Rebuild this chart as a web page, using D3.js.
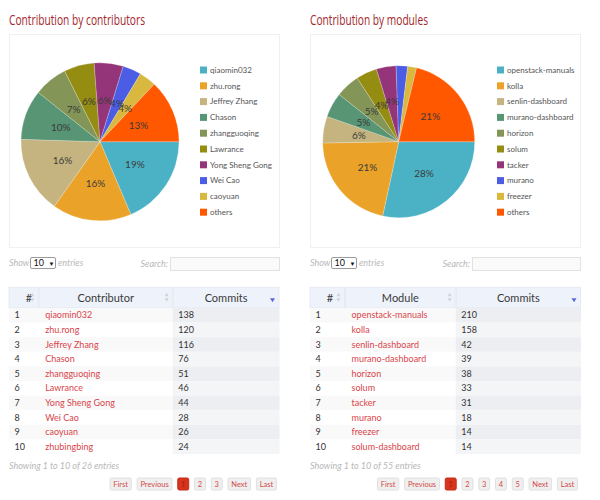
<!DOCTYPE html>
<html><head><meta charset="utf-8">
<script src="https://cdn.jsdelivr.net/npm/d3@7"></script>
<style>body{margin:0;background:#fff;} svg{display:block;font-family:Lato,"Open Sans",sans-serif;}</style>
</head><body><svg id="c" width="600" height="500"></svg>
<script>
// ---------- data ----------
const palette = ["#4bb2c5","#eaa228","#c5b47f","#579575","#839557","#958c12","#953579","#4b5de4","#d8b83f","#ff5800"];

const contributorNames = ["qiaomin032","zhu.rong","Jeffrey Zhang","Chason","zhangguoqing","Lawrance","Yong Sheng Gong","Wei Cao","caoyuan","others"];
const contributorCommits = [138,120,116,76,51,46,44,28,26,96];

const contributorRows = ["qiaomin032","zhu.rong","Jeffrey Zhang","Chason","zhangguoqing","Lawrance","Yong Sheng Gong","Wei Cao","caoyuan","zhubingbing"];
const contributorRowCommits = [138,120,116,76,51,46,44,28,26,24];
const contributorEntries = 26;
const contributorPages = ["First","Previous","1","2","3","Next","Last"];

const moduleNames = ["openstack-manuals","kolla","senlin-dashboard","murano-dashboard","horizon","solum","tacker","murano","freezer","others"];
const moduleCommits = [210,158,42,39,38,33,31,18,14,157];

const moduleRows = ["openstack-manuals","kolla","senlin-dashboard","murano-dashboard","horizon","solum","tacker","murano","freezer","solum-dashboard"];
const moduleRowCommits = [210,158,42,39,38,33,31,18,14,14];
const moduleEntries = 55;
const modulePages = ["First","Previous","1","2","3","4","5","Next","Last"];

// ---------- drawing ----------
const svg = d3.select("#c");

function panel(o) {
  const g = svg.append("g");
  // title
  g.append("text").attr("x", o.x0).attr("y", 25)
    .attr("font-family", "'Open Sans',sans-serif").attr("font-size", 14)
    .attr("fill", "#a3262a").attr("textLength", o.titleW).attr("lengthAdjust", "spacingAndGlyphs")
    .text(o.title);
  // chart box
  g.append("rect").attr("x", o.x0 + 0.5).attr("y", 34.5).attr("width", o.x1 - o.x0 - 1).attr("height", 213)
    .attr("fill", "#fff").attr("stroke", "#f0f0f0");

  // pie
  const pie = d3.pie().sort(null).value(d => d.v).startAngle(Math.PI / 2).endAngle(Math.PI / 2 + 2 * Math.PI);
  const data = o.names.map((n, i) => ({ n, v: o.values[i], c: palette[i] }));
  const arcs = pie(data);
  const total = d3.sum(o.values);
  const arc = d3.arc().innerRadius(0).outerRadius(o.r);
  const labelArc = d3.arc().innerRadius(o.r * 0.53).outerRadius(o.r * 0.53);
  const pg = g.append("g").attr("transform", `translate(${o.cx},141.7)`);
  pg.selectAll("path.s").data(arcs).join("path").attr("class", "s")
    .attr("d", arc).attr("fill", d => d.data.c)
    .attr("stroke", "rgba(255,255,255,0.35)").attr("stroke-width", 0.6);
  pg.selectAll("text").data(arcs.filter(d => d.data.v / total >= 0.03)).join("text")
    .attr("transform", d => `translate(${labelArc.centroid(d)})`)
    .attr("text-anchor", "middle").attr("dy", "0.35em")
    .attr("font-size", 10).attr("fill", "#3a3a3a")
    .text(d => Math.round(d.data.v / total * 100) + "%");

  // legend
  const lg = g.append("g");
  const rowsL = lg.selectAll("g").data(data).join("g")
    .attr("transform", (d, i) => `translate(${o.legendX},${70 + i * 15.8})`);
  rowsL.append("rect").attr("x", 0).attr("y", -3.5).attr("width", 7).attr("height", 7).attr("fill", d => d.c);
  rowsL.append("text").attr("x", 10).attr("dy", "0.35em").attr("font-size", 8).attr("fill", "#555").text(d => d.n);

  // show / search
  const it = { "font-size": 9, "font-style": "italic", "fill": "#b8b8b8" };
  const T = (sel, attrs) => { for (const k in attrs) sel.attr(k, attrs[k]); return sel; };
  T(g.append("text").attr("x", o.x0).attr("y", 265.5), it).text("Show");
  g.append("rect").attr("x", o.x0 + 21.5).attr("y", 257.5).attr("width", 25).attr("height", 11)
    .attr("rx", 1.5).attr("fill", "#fff").attr("stroke", "#9a9a9a");
  g.append("text").attr("x", o.x0 + 24.5).attr("y", 266).attr("font-size", 9).attr("fill", "#111").text("10");
  g.append("text").attr("x", o.x0 + 39.5).attr("y", 265.5).attr("font-size", 6).attr("fill", "#111").text("▼");
  T(g.append("text").attr("x", o.x0 + 49).attr("y", 265.5), it).text("entries");
  T(g.append("text").attr("x", o.searchX - 2).attr("y", 266.5).attr("text-anchor", "end"), it).text("Search:");
  g.append("rect").attr("x", o.searchX + 0.5).attr("y", 257.5).attr("width", o.x1 - o.searchX - 1).attr("height", 13)
    .attr("fill", "#fafafa").attr("stroke", "#e2e2e2");

  // table
  const cols = o.cols; // boundaries
  const hy = 287.3, hh = 20.7, rowH = 14.6, ry0 = hy + hh;
  const heads = ["#", o.colName, "Commits"];
  for (let c = 0; c < 3; c++) {
    g.append("rect").attr("x", cols[c] + (c ? 0.5 : 0)).attr("y", hy).attr("width", cols[c + 1] - cols[c] - (c ? 0.5 : 0) - 0.5)
      .attr("height", hh).attr("fill", "#eef2fa").attr("stroke", "#e3e7ef").attr("stroke-width", 0.8);
    g.append("text").attr("x", c === 0 ? cols[0] + 20 : (cols[c] + cols[c + 1]) / 2).attr("y", hy + 14.3)
      .attr("text-anchor", "middle").attr("font-size", 11).attr("fill", "#3a3a3a").text(heads[c]);
  }
  // sort icons
  [cols[1] - 6.5, cols[2] - 6].forEach(x => {
    g.append("path").attr("d", `M${x - 2},${hy + 9} L${x + 2},${hy + 9} L${x},${hy + 5.5}Z`).attr("fill", "#cfd3da");
    g.append("path").attr("d", `M${x - 2},${hy + 11} L${x + 2},${hy + 11} L${x},${hy + 14.5}Z`).attr("fill", "#cfd3da");
  });
  const tx = cols[3] - 7;
  g.append("path").attr("d", `M${tx - 2.5},${hy + 11} L${tx + 2.5},${hy + 11} L${tx},${hy + 15}Z`).attr("fill", "#5a67d8");

  const rows = o.rows.map((n, i) => ({ i, n, v: o.rowValues[i] }));
  const y = d3.scaleBand().domain(rows.map(d => d.i)).range([ry0, ry0 + rowH * rows.length]);
  const rg = g.selectAll("g.row").data(rows).join("g").attr("class", "row");
  rg.append("rect").attr("x", cols[0]).attr("y", d => y(d.i)).attr("width", cols[2] - cols[0]).attr("height", y.bandwidth())
    .attr("fill", d => d.i % 2 === 0 ? "#f9f9f9" : "#fff");
  rg.append("rect").attr("x", cols[2]).attr("y", d => y(d.i)).attr("width", cols[3] - cols[2]).attr("height", y.bandwidth())
    .attr("fill", d => d.i % 2 === 0 ? "#eceef1" : "#f4f5f7");
  rg.append("text").attr("x", cols[0] + 5.5).attr("y", d => y(d.i) + 10.3).attr("font-size", 9).attr("fill", "#333").text(d => d.i + 1);
  rg.append("text").attr("x", cols[1] + 6.5).attr("y", d => y(d.i) + 10.3).attr("font-size", 9).attr("fill", "#d9454b").text(d => d.n);
  rg.append("text").attr("x", cols[2] + 5.5).attr("y", d => y(d.i) + 10.3).attr("font-size", 9).attr("fill", "#333").text(d => d.v);

  T(g.append("text").attr("x", o.x0).attr("y", 469), it).text(`Showing 1 to ${rows.length} of ${o.entries} entries`);

  // pagination (right aligned)
  const pgG = g.append("g");
  const btns = o.pages.map(p => {
    const b = pgG.append("g");
    const t = b.append("text").attr("font-size", 7.5).attr("y", 486.8).attr("text-anchor", "middle")
      .attr("fill", p === "1" ? "#b01a10" : "#d24a48").text(p);
    return { p, b, t, w: t.node().getComputedTextLength() };
  });
  let xr = o.x1 - 3;
  for (let k = btns.length - 1; k >= 0; k--) {
    const bt = btns[k];
    const pad = 3.8;
    const w = bt.w + pad * 2;
    const xl = xr - w;
    bt.b.insert("rect", "text").attr("x", xl + 0.5).attr("y", 478).attr("width", w - 1).attr("height", 12).attr("rx", 1.5)
      .attr("fill", bt.p === "1" ? "#d7341d" : "#efefef").attr("stroke", bt.p === "1" ? "#c52a16" : "#e0e0e0");
    bt.t.attr("x", xl + w / 2);
    xr = xl - 4.8;
  }
}

panel({ x0: 9, x1: 280, title: "Contribution by contributors", titleW: 136, cx: 100, r: 79, legendX: 200,
  names: contributorNames, values: contributorCommits, searchX: 170,
  cols: [9, 38.7, 172.7, 279.5], colName: "Contributor", rows: contributorRows, rowValues: contributorRowCommits,
  entries: contributorEntries, pages: contributorPages });

panel({ x0: 310, x1: 581, title: "Contribution by modules", titleW: 118, cx: 398.7, r: 76, legendX: 497,
  names: moduleNames, values: moduleCommits, searchX: 472,
  cols: [310, 345, 455.7, 581], colName: "Module", rows: moduleRows, rowValues: moduleRowCommits,
  entries: moduleEntries, pages: modulePages });
</script></body></html>
